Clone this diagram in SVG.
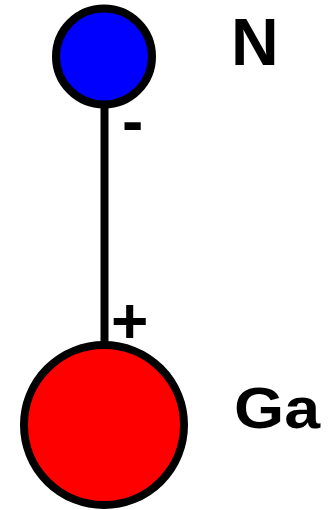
<svg xmlns="http://www.w3.org/2000/svg" width="330" height="510" viewBox="0 0 330 510">
<style>
.atom{stroke:#000;stroke-width:8}
.lbl{font-family:"Liberation Sans",Arial,sans-serif;font-weight:bold;fill:#000}
</style>
<rect width="330" height="510" fill="#fff"/>
<g id="connectors">
<line x1="104.5" y1="104" x2="104.5" y2="345" stroke="#000" stroke-width="8"/>
<text class="lbl" x="122" y="143" font-size="64">-</text>
<text class="lbl" x="111" y="343" font-size="64">+</text>
</g>
<g id="N">
<circle class="atom" cx="104" cy="56.5" r="48" fill="#0000ff"/>
<text class="lbl" x="231" y="65" font-size="66">N</text>
</g>
<g id="Ga">
<circle class="atom" cx="104" cy="425" r="80" fill="#ff0000"/>
<text class="lbl" x="234" y="428" font-size="57" textLength="86" lengthAdjust="spacingAndGlyphs">Ga</text>
</g>
</svg>
